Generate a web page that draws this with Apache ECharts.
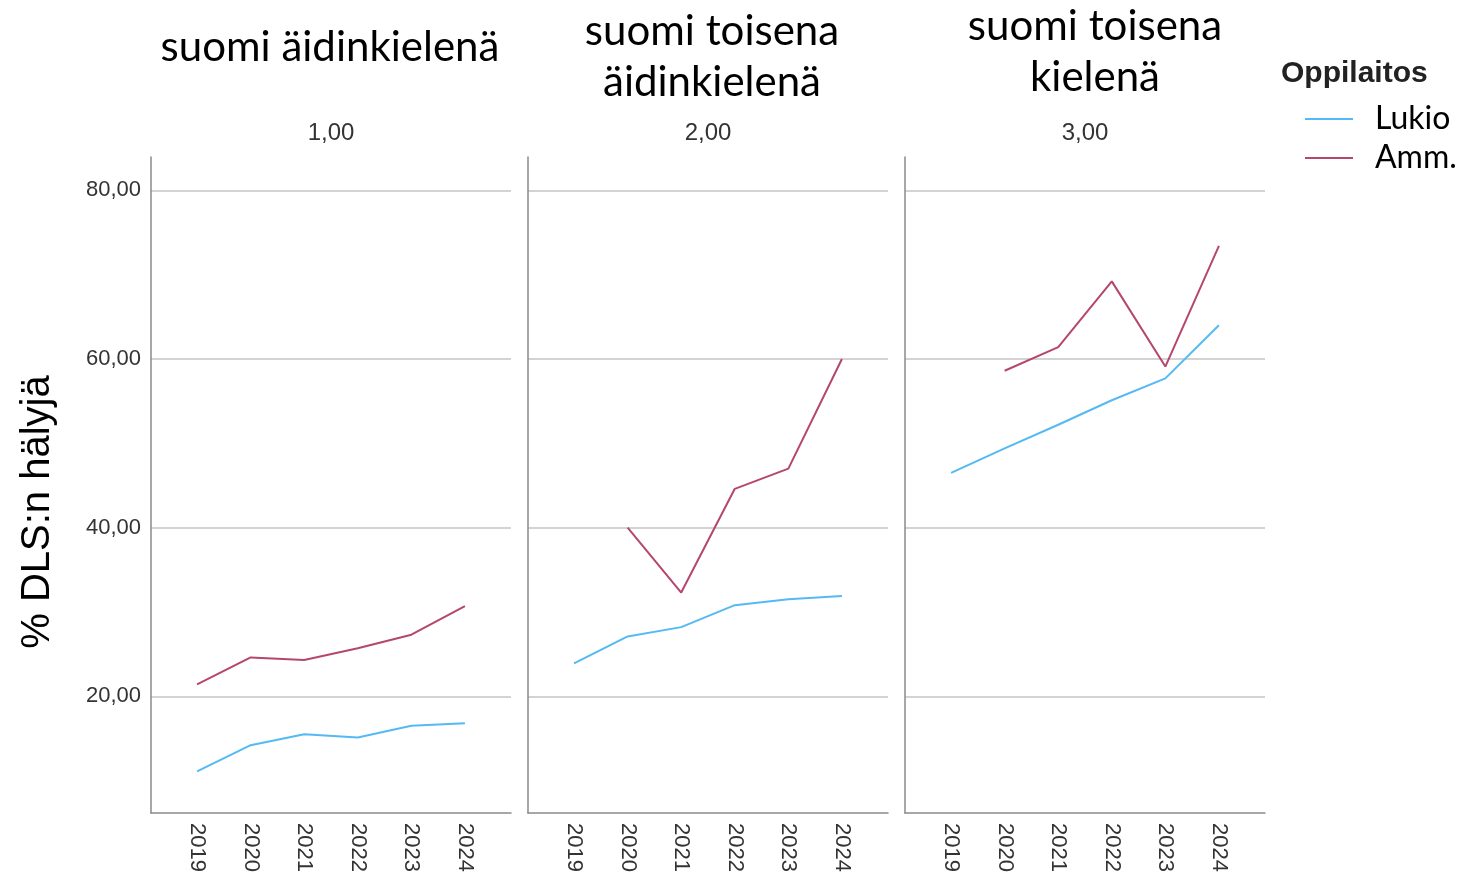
<!DOCTYPE html>
<html>
<head>
<meta charset="utf-8">
<script src="https://cdn.jsdelivr.net/npm/echarts@6/dist/echarts.min.js"></script>
<style>html,body{margin:0;padding:0;background:#fff}#c{width:1460px;height:875px}</style>
</head>
<body>
<div id="c"></div>
<script>
const years = [2019, 2020, 2021, 2022, 2023, 2024];
const panelTitles = ['suomi äidinkielenä', 'suomi toisena\näidinkielenä', 'suomi toisena\nkielenä'];
const panelCodes = ['1,00', '2,00', '3,00'];
const seriesNames = ['Lukio', 'Amm.'];
const lukio1 = [11.1, 14.2, 15.5, 15.1, 16.5, 16.8];
const amm1 = [21.4, 24.6, 24.3, 25.7, 27.3, 30.7];
const lukio2 = [23.9, 27.1, 28.2, 30.8, 31.5, 31.9];
const amm2 = [null, 40.0, 32.3, 44.6, 47.0, 60.0];
const lukio3 = [46.5, 49.4, 52.2, 55.1, 57.7, 64.0];
const amm3 = [null, 58.6, 61.4, 69.2, 59.1, 73.4];
const yTicks = [20, 40, 60, 80];

const colors = {Lukio: '#55b9f3', 'Amm.': '#b4466f'};
const lukioSets = [lukio1, lukio2, lukio3];
const ammSets = [amm1, amm2, amm3];
const panelLefts = [151, 528, 905];
const panelWidth = 360;
const titleCenters = [330, 712, 1095];
const titleYs = [47, 57, 52];

const grids = [], xAxes = [], yAxes = [], series = [], graphics = [];
for (let i = 0; i < 3; i++) {
  grids.push({left: panelLefts[i], width: panelWidth, top: 157, height: 659});
  xAxes.push({
    type: 'value', gridIndex: i, min: 2018.14, max: 2024.86, minInterval: 1, maxInterval: 1,
    axisLine: {show: true, lineStyle: {color: '#8a8a8a', width: 1.5}},
    axisTick: {show: false}, splitLine: {show: false},
    axisLabel: {
      rotate: -90, margin: 10, fontFamily: 'Liberation Sans', fontSize: 22, color: '#333',
      showMinLabel: false, showMaxLabel: false,
      formatter: v => (years.indexOf(Math.round(v)) >= 0 && Math.abs(v - Math.round(v)) < 1e-6) ? String(Math.round(v)) : ''
    }
  });
  yAxes.push({
    type: 'value', gridIndex: i, min: 6.15, max: 83.95, minInterval: 20, maxInterval: 20,
    axisLine: {show: true, lineStyle: {color: '#8a8a8a', width: 1.5}},
    axisTick: {show: false},
    splitLine: {show: true, showMinLine: false, showMaxLine: false, lineStyle: {color: '#c4c4c4', width: 1.5}},
    axisLabel: {
      show: i === 0, margin: 10, fontFamily: 'Liberation Sans', fontSize: 22, color: '#333',
      showMinLabel: false, showMaxLabel: false,
      formatter: v => yTicks.indexOf(v) >= 0 ? v.toFixed(2).replace('.', ',') : ''
    }
  });
  series.push({
    name: 'Lukio', type: 'line', xAxisIndex: i, yAxisIndex: i, showSymbol: false, symbol: 'none',
    lineStyle: {width: 2, color: colors.Lukio}, itemStyle: {color: colors.Lukio},
    data: years.map((y, k) => [y, lukioSets[i][k]])
  });
  series.push({
    name: 'Amm.', type: 'line', xAxisIndex: i, yAxisIndex: i, showSymbol: false, symbol: 'none',
    lineStyle: {width: 2, color: colors['Amm.']}, itemStyle: {color: colors['Amm.']},
    data: years.map((y, k) => [y, ammSets[i][k]])
  });
  graphics.push({
    type: 'text', x: panelLefts[i] + panelWidth / 2, y: 133,
    style: {text: panelCodes[i], font: '24px "Liberation Sans"', fill: '#333', align: 'center', verticalAlign: 'middle'}
  });
  graphics.push({
    type: 'text', x: titleCenters[i], y: titleYs[i],
    style: {text: panelTitles[i], font: '42px Lato', fill: '#000', align: 'center', verticalAlign: 'middle', lineHeight: 51}
  });
}
graphics.push({
  type: 'text', x: 38, y: 512, rotation: Math.PI / 2,
  style: {text: '% DLS:n hälyjä', font: '40px "Liberation Sans"', fill: '#000', align: 'center', verticalAlign: 'middle'}
});
graphics.push({
  type: 'text', x: 1281, y: 74,
  style: {text: 'Oppilaitos', font: 'bold 30px "Liberation Sans"', fill: '#222', align: 'left', verticalAlign: 'middle'}
});

const chart = echarts.init(document.getElementById('c'), null, {renderer: 'canvas'});
chart.setOption({
  animation: false,
  backgroundColor: '#fff',
  grid: grids, xAxis: xAxes, yAxis: yAxes, series: series,
  legend: {
    data: seriesNames, orient: 'vertical', left: 1305, top: 103, padding: 0,
    itemWidth: 48, itemHeight: 2, icon: 'rect', itemGap: 7,
    textStyle: {fontFamily: 'Lato', fontSize: 32, color: '#000', padding: [0, 0, 0, 17]}
  },
  graphic: graphics
});
</script>
</body>
</html>
